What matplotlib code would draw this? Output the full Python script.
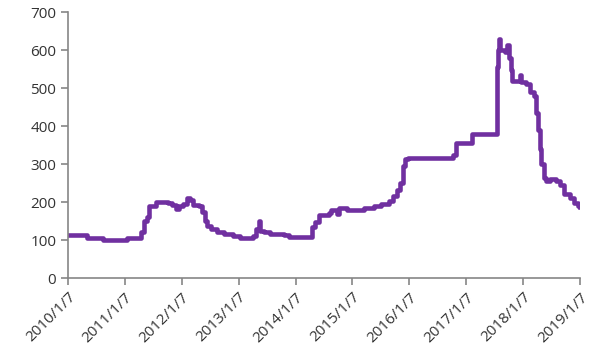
import matplotlib
matplotlib.use("Agg")
import matplotlib.pyplot as plt

# time in years since 2010/1/7
t = [0, 0.33, 0.45, 0.62, 1.04, 1.28, 1.33, 1.38, 1.42, 1.55, 1.75, 1.82, 1.90, 1.95,
     2.03, 2.10, 2.15, 2.20, 2.30, 2.36, 2.40, 2.45, 2.52, 2.62, 2.75, 2.90, 3.02, 3.18,
     3.25, 3.30, 3.35, 3.38, 3.45, 3.55, 3.80, 3.88, 4.29, 4.34, 4.42, 4.58, 4.63, 4.73,
     4.77, 4.90, 5.20, 5.38, 5.50, 5.64, 5.72, 5.78, 5.84, 5.88, 5.93, 5.98, 6.77, 6.82,
     7.10, 7.54, 7.555, 7.57, 7.59, 7.68, 7.71, 7.76, 7.79, 7.81, 7.94, 7.97, 8.05, 8.12,
     8.19, 8.23, 8.26, 8.29, 8.32, 8.36, 8.40, 8.47, 8.58, 8.65, 8.72, 8.82, 8.90, 8.97, 9.00]
values = [112, 106, 104, 101, 105, 120, 150, 160, 190, 200, 198, 192, 182, 190,
          195, 210, 205, 192, 190, 175, 150, 138, 128, 120, 115, 111, 106, 104,
          110, 128, 150, 125, 120, 116, 112, 107, 135, 148, 165, 172, 178, 168,
          185, 180, 185, 190, 196, 202, 215, 232, 250, 295, 312, 315, 325, 355,
          378, 555, 600, 630, 600, 595, 612, 580, 548, 518, 535, 515, 510, 490,
          480, 435, 390, 340, 300, 262, 255, 260, 255, 245, 220, 210, 198, 190, 188]

tick_labels = ["2010/1/7", "2011/1/7", "2012/1/7", "2013/1/7", "2014/1/7",
               "2015/1/7", "2016/1/7", "2017/1/7", "2018/1/7", "2019/1/7"]
y_ticks = [0, 100, 200, 300, 400, 500, 600, 700]

fig = plt.figure(figsize=(5.93, 3.58), dpi=100)
ax = fig.add_axes([68/593, 1-278/358, (580-68)/593, (278-12)/358])
ax.plot(t, values, color="#7030A0", lw=3.3, drawstyle="steps-post", solid_joinstyle="round")

ax.set_xlim(0, 9.0)
ax.set_ylim(0, 700)
ax.set_yticks(y_ticks)
ax.set_xticks(range(len(tick_labels)))
ax.set_xticklabels(tick_labels, rotation=45, ha="right", rotation_mode="anchor")

for s in ["top", "right"]:
    ax.spines[s].set_visible(False)
for s in ["left", "bottom"]:
    ax.spines[s].set_color("#868686")
    ax.spines[s].set_linewidth(1.2)
ax.tick_params(axis="both", colors="#868686", length=5, width=1.2, direction="out",
               labelcolor="#333333", labelsize=11)
for lab in ax.get_xticklabels() + ax.get_yticklabels():
    lab.set_family(["Open Sans", "DejaVu Sans"])

fig.savefig("out.png", dpi=100)
